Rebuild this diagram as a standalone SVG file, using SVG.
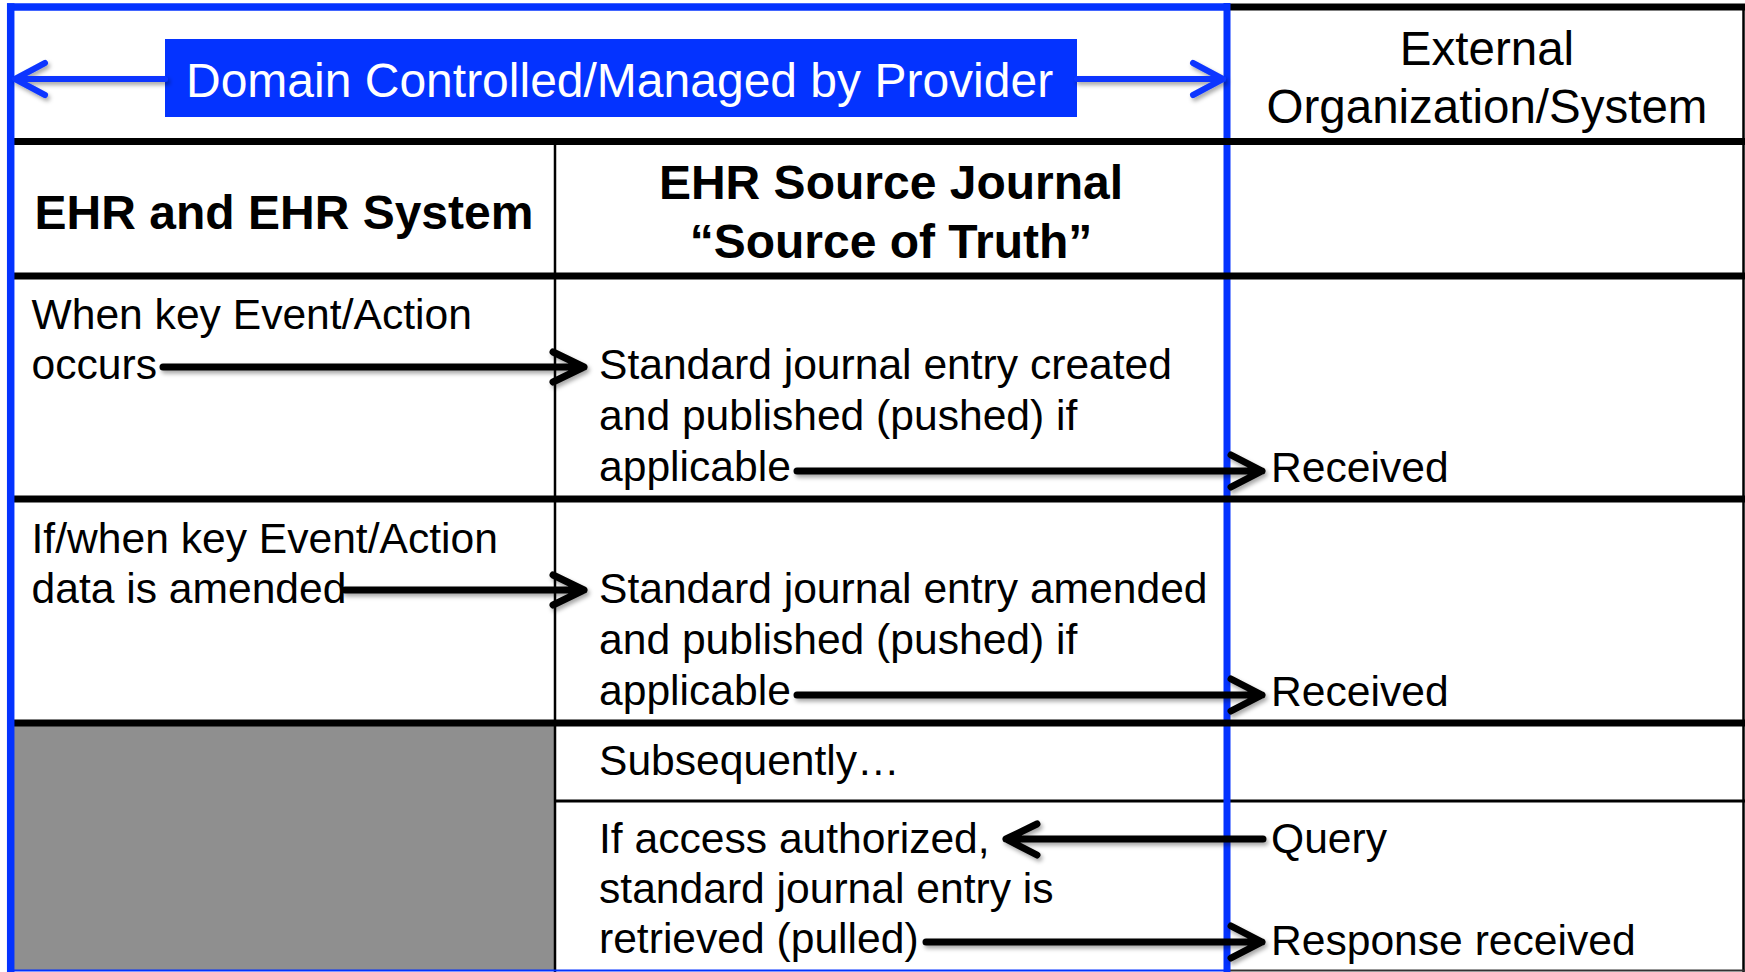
<svg xmlns="http://www.w3.org/2000/svg" width="1745" height="972" viewBox="0 0 1745 972">
<style>
.t{font-family:"Liberation Sans",Arial,sans-serif;font-size:42.6px;fill:#000}
.h{font-family:"Liberation Sans",Arial,sans-serif;font-size:48px;font-weight:bold;fill:#000;text-anchor:middle}
.ext{font-family:"Liberation Sans",Arial,sans-serif;font-size:47.5px;fill:#000;text-anchor:middle}
.thick{stroke:#000;stroke-width:7;fill:none}
.thin{stroke:#000;stroke-width:2.5;fill:none}
.blue{stroke:#0433ff;fill:none}
.arr{stroke:#000;stroke-width:7;fill:none;stroke-linecap:round;stroke-linejoin:round}
.barr{stroke:#0a36ff;stroke-width:6;fill:none;stroke-linecap:round;stroke-linejoin:round}
</style>
<defs>
<filter id="sh" x="-5%" y="-50%" width="110%" height="200%">
<feDropShadow dx="2" dy="3" stdDeviation="2" flood-color="#000" flood-opacity="0.35"/>
</filter>
</defs>
<rect x="0" y="0" width="1745" height="972" fill="#fff"/>

<g id="grid">
<rect x="14" y="726" width="541" height="245" fill="#8f8f8f"/>
<line class="thin" x1="555" y1="141" x2="555" y2="972"/>
<line x1="555" y1="801" x2="1745" y2="801" stroke="#000" stroke-width="3"/>
<line class="thin" x1="1743.5" y1="4" x2="1743.5" y2="972" stroke-width="2"/>
<line x1="1227" y1="970.5" x2="1745" y2="970.5" stroke="#333" stroke-width="2"/>
<line x1="10" y1="970.5" x2="1227" y2="970.5" stroke="#0433ff" stroke-width="2"/>
<line class="thick" x1="1227" y1="7" x2="1745" y2="7"/>
<line class="blue" x1="7" y1="7" x2="1230" y2="7" stroke-width="7.5"/>
<line class="blue" x1="1227" y1="3" x2="1227" y2="972" stroke-width="7"/>
<line class="thick" x1="14" y1="141.5" x2="1745" y2="141.5"/>
<line class="thick" x1="14" y1="276" x2="1745" y2="276"/>
<line class="thick" x1="14" y1="499" x2="1745" y2="499"/>
<line class="thick" x1="14" y1="723" x2="1745" y2="723"/>
<line class="blue" x1="10.7" y1="3.3" x2="10.7" y2="972" stroke-width="7.5"/>
</g>

<g id="domain-banner">
<rect x="165" y="39" width="912" height="78" fill="#0433ff"/>
<text x="186" y="97" font-family="'Liberation Sans',Arial,sans-serif" font-size="48" fill="#fff">Domain Controlled/Managed by Provider</text>
</g>

<g id="header-ehr-system">
<text class="h" x="284" y="229">EHR and EHR System</text>
</g>
<g id="header-source-journal">
<text class="h" x="891" y="199">EHR Source Journal</text>
<text class="h" x="891" y="258">“Source of Truth”</text>
</g>
<g id="header-external">
<text class="ext" x="1487" y="65">External</text>
<text class="ext" x="1487" y="123">Organization/System</text>
</g>

<g id="row1-ehr">
<text class="t" x="31.5" y="329">When key Event/Action</text>
<text class="t" x="31.5" y="379">occurs</text>
</g>
<g id="row1-journal">
<text class="t" x="599" y="379">Standard journal entry created</text>
<text class="t" x="599" y="430">and published (pushed) if</text>
<text class="t" x="599" y="481">applicable</text>
</g>
<g id="row1-external">
<text class="t" x="1271" y="482">Received</text>
</g>

<g id="row2-ehr">
<text class="t" x="31.5" y="553">If/when key Event/Action</text>
<text class="t" x="31.5" y="603">data is amended</text>
</g>
<g id="row2-journal">
<text class="t" x="599" y="603">Standard journal entry amended</text>
<text class="t" x="599" y="654">and published (pushed) if</text>
<text class="t" x="599" y="705">applicable</text>
</g>
<g id="row2-external">
<text class="t" x="1271" y="706">Received</text>
</g>

<g id="row3-journal">
<text class="t" x="599" y="775">Subsequently…</text>
</g>

<g id="row4-journal">
<text class="t" x="599" y="853">If access authorized,</text>
<text class="t" x="599" y="903">standard journal entry is</text>
<text class="t" x="599" y="953">retrieved (pulled)</text>
</g>
<g id="row4-external">
<text class="t" x="1271" y="853">Query</text>
<text class="t" x="1271" y="955">Response received</text>
</g>

<g id="connectors">
<g filter="url(#sh)">
<path class="barr" d="M165 79 H15 M45 63 L15 79 L45 95"/>
<path class="barr" d="M1077 79 H1223 M1193 63 L1223 79 L1193 95"/>
</g>
<g filter="url(#sh)">
<path class="arr" d="M163 367 H584 M553 352 L584 367 L553 382"/>
<path class="arr" d="M345 590 H584 M553 575 L584 590 L553 605"/>
<path class="arr" d="M797 471 H1262 M1231 455 L1262 471 L1231 487"/>
<path class="arr" d="M797 695 H1262 M1231 679 L1262 695 L1231 711"/>
<path class="arr" d="M1263 839 H1006 M1037 824 L1006 839 L1037 855"/>
<path class="arr" d="M926 942 H1262 M1231 926 L1262 942 L1231 958"/>
</g>
</g>
</svg>
